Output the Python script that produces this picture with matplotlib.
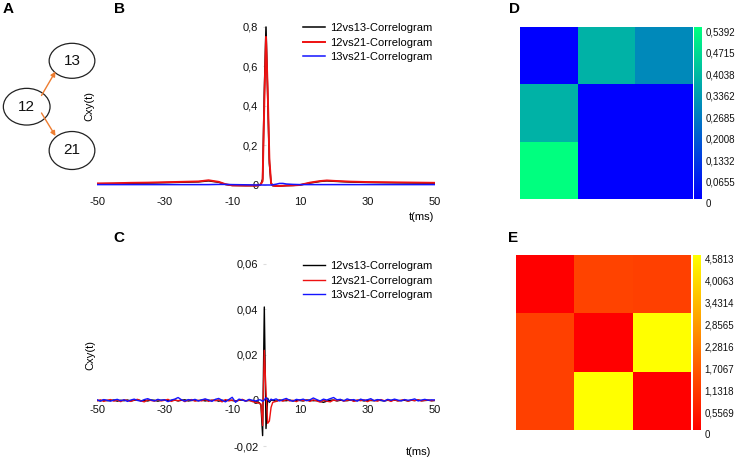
import numpy as np
import matplotlib
matplotlib.use('Agg')
import matplotlib.pyplot as plt
from matplotlib.patches import Ellipse, FancyArrowPatch

plt.rcParams['font.family'] = ['Liberation Sans', 'DejaVu Sans']

W, H = 737, 461

# ------------------------------------------------------------------ data
series_labels = ['12vs13-Correlogram', '12vs21-Correlogram', '13vs21-Correlogram']
series_colors = ['#000000', '#ee1111', '#1414ff']

x_ticks = [-50, -30, -10, 10, 30, 50]
x_ticklabels = ['-50', '-30', '-10', '10', '30', '50']

# Panel B : raw correlograms
b_t = [-50, -45, -40, -35, -30, -25, -20, -17, -14, -12, -10, -6, -3, -2,
       -1.5, -1, -0.5, 0, 0.5, 1, 1.5, 2, 3, 4, 5, 6, 8, 10,
       13, 16, 18, 20, 25, 30, 35, 40, 45, 50]
b_black = [0.006, 0.007, 0.009, 0.010, 0.012, 0.014, 0.016, 0.021, 0.014, 0.003, -0.002, -0.003, -0.003, -0.001,
           0.004, 0.030, 0.470, 0.800, 0.450, 0.110, 0.008, -0.003, -0.005, -0.005, -0.004, -0.003, -0.002, 0.000,
           0.010, 0.018, 0.021, 0.019, 0.015, 0.013, 0.012, 0.011, 0.010, 0.009]
b_red = [0.008, 0.009, 0.011, 0.012, 0.014, 0.016, 0.018, 0.024, 0.016, 0.004, -0.002, -0.003, -0.003, -0.001,
         0.005, 0.020, 0.420, 0.750, 0.480, 0.130, 0.010, -0.003, -0.005, -0.005, -0.004, -0.003, -0.002, 0.000,
         0.012, 0.020, 0.023, 0.021, 0.017, 0.015, 0.014, 0.013, 0.012, 0.011]
b_blue = [0.002, 0.002, 0.002, 0.002, 0.002, 0.002, 0.002, 0.002, 0.003, 0.003, 0.002, 0.001, 0.000, 0.000,
          0.000, 0.000, 0.000, 0.000, 0.000, 0.000, 0.000, 0.001, 0.004, 0.008, 0.008, 0.005, 0.003, 0.002,
          0.002, 0.002, 0.002, 0.002, 0.002, 0.002, 0.002, 0.002, 0.002, 0.002]
b_yticks = [0, 0.2, 0.4, 0.6, 0.8]
b_yticklabels = ['0', '0,2', '0,4', '0,6', '0,8']

# Panel C : corrected correlograms (1 ms bins, 0.5 ms around zero lag)
c_t = list(range(-50, -1)) + [-1.5, -1, -0.5, 0, 0.5, 1, 1.5] + list(range(2, 51))
c_black = ([0.0001, -0.0002, 0.0002, -0.0001, 0.0000, 0.0002, -0.0003, 0.0001, -0.0001, 0.0002,
            -0.0002, 0.0001, 0.0003, -0.0001, 0.0000, -0.0002, 0.0002, 0.0001, -0.0003, 0.0001,
            0.0002, -0.0001, 0.0000, 0.0002, -0.0002, 0.0001, 0.0003, -0.0002, 0.0000, 0.0001,
            -0.0001, 0.0002, -0.0002, 0.0001, 0.0000, 0.0002, -0.0003, 0.0001, -0.0001, 0.0002,
            0.0000, -0.0002, 0.0001, 0.0002, -0.0001, 0.0000, -0.0002, -0.0005, -0.0010]
           + [-0.0020, -0.0154, 0.0410, -0.0123, 0.0010, -0.0008, 0.0002]
           + [0.0001, -0.0003, 0.0002, 0.0000, -0.0001, 0.0002, -0.0002, 0.0001, 0.0000, -0.0002,
              0.0002, 0.0001, -0.0001, 0.0000, -0.0004, -0.0008, -0.0003, 0.0001, 0.0002, -0.0002,
              0.0001, 0.0000, -0.0001, 0.0002, -0.0001, 0.0000, 0.0002, -0.0002, 0.0001, 0.0000,
              -0.0001, 0.0002, 0.0000, -0.0002, 0.0001, 0.0000, 0.0002, -0.0001, 0.0000, 0.0001,
              -0.0002, 0.0001, 0.0000, 0.0002, -0.0001, 0.0000, 0.0001, -0.0001, 0.0000])
c_red = ([-0.0002, 0.0003, -0.0004, 0.0001, 0.0004, -0.0003, 0.0002, -0.0005, 0.0003, 0.0000,
          -0.0004, 0.0002, 0.0005, -0.0002, -0.0006, 0.0003, 0.0000, -0.0003, 0.0004, -0.0002,
          0.0001, 0.0005, -0.0004, 0.0002, -0.0001, 0.0003, -0.0005, 0.0002, 0.0004, -0.0003,
          0.0001, -0.0002, 0.0005, -0.0004, 0.0002, -0.0001, 0.0003, -0.0006, 0.0004, -0.0002,
          0.0002, -0.0004, 0.0001, 0.0005, -0.0003, 0.0002, -0.0005, -0.0008, -0.0012]
         + [-0.0015, -0.0110, 0.0220, 0.0040, -0.0100, -0.0090, -0.0030]
         + [-0.0008, -0.0004, 0.0002, -0.0003, 0.0004, -0.0002, 0.0001, -0.0005, 0.0003, -0.0001,
            0.0002, -0.0004, 0.0003, -0.0002, -0.0007, 0.0001, -0.0003, -0.0006, 0.0002, -0.0001,
            0.0004, -0.0003, 0.0001, 0.0003, -0.0004, 0.0002, -0.0001, 0.0003, -0.0005, 0.0002,
            0.0000, -0.0003, 0.0004, -0.0001, 0.0002, -0.0004, 0.0003, -0.0002, 0.0001, 0.0004,
            -0.0003, 0.0002, -0.0001, 0.0003, -0.0002, 0.0001, 0.0002, -0.0001, 0.0001])
c_blue = ([0.0003, -0.0002, 0.0004, 0.0001, -0.0003, 0.0002, 0.0005, -0.0001, 0.0003, -0.0004,
           0.0002, 0.0006, 0.0000, -0.0003, 0.0004, 0.0008, 0.0002, -0.0002, 0.0005, 0.0001,
           0.0003, -0.0005, 0.0002, 0.0006, 0.0013, 0.0003, -0.0003, 0.0004, 0.0001, 0.0005,
           -0.0002, 0.0003, 0.0007, 0.0002, -0.0004, 0.0005, 0.0009, 0.0001, -0.0006, 0.0004,
           0.0014, -0.0008, 0.0006, 0.0002, -0.0003, 0.0005, 0.0001, -0.0002, 0.0003]
          + [0.0002, -0.0004, 0.0003, 0.0012, 0.0004, -0.0003, 0.0006]
          + [0.0002, 0.0007, -0.0002, 0.0004, 0.0009, 0.0001, -0.0003, 0.0005, 0.0002, 0.0006,
             -0.0001, 0.0003, 0.0011, 0.0004, -0.0002, 0.0006, 0.0002, 0.0008, 0.0013, 0.0003,
             0.0005, -0.0002, 0.0007, 0.0002, 0.0004, -0.0003, 0.0006, 0.0001, 0.0003, 0.0008,
             -0.0001, 0.0004, 0.0002, -0.0003, 0.0005, 0.0001, 0.0006, 0.0002, -0.0002, 0.0004,
             0.0001, 0.0003, 0.0007, -0.0002, 0.0002, 0.0005, 0.0001, 0.0003, 0.0002])
c_yticks = [-0.02, 0, 0.02, 0.04, 0.06]
c_yticklabels = ['-0,02', '0', '0,02', '0,04', '0,06']

# Panel D / E matrices
d_matrix = [[0.0, 0.377, 0.290],
            [0.377, 0.0, 0.0],
            [0.5392, 0.0, 0.0]]
d_ticklabels = ['0', '0,0655', '0,1332', '0,2008', '0,2685', '0,3362', '0,4038', '0,4715', '0,5392']
d_max = 0.5392
e_matrix = [[0.0, 1.20, 1.15],
            [1.15, 0.0, 4.5813],
            [1.15, 4.5813, 0.0]]
e_ticklabels = ['0', '0,5569', '1,1318', '1,7067', '2,2816', '2,8565', '3,4314', '4,0063', '4,5813']
e_max = 4.5813

# Panel A graph
a_nodes = ['12', '13', '21']
a_edges = [('12', '13'), ('12', '21')]

# ------------------------------------------------------------------ figure
fig = plt.figure(figsize=(W / 100, H / 100), dpi=100)


def box(x0, y0, x1, y1):
    return [x0 / W, 1 - y1 / H, (x1 - x0) / W, (y1 - y0) / H]


# ---- Panel A
ax_a = fig.add_axes(box(0, 30, 110, 180))
ax_a.set_xlim(0, 110)
ax_a.set_ylim(180, 30)
ax_a.axis('off')
node_layout = {'12': (26.7, 106.7, 46.7, 36.7),
               '13': (72.0, 60.8, 45.7, 35.0),
               '21': (72.0, 150.5, 45.7, 38.0)}
for n in a_nodes:
    cx, cy, w, h = node_layout[n]
    ax_a.add_patch(Ellipse((cx, cy), w, h, facecolor='white', edgecolor='#222222', lw=0.9))
    ax_a.text(cx, cy, n, ha='center', va='center', fontsize=11, color='#111111')
edge_layout = {('12', '13'): ((41.5, 95.5), (55.5, 71.5)),
               ('12', '21'): ((41.5, 113.0), (55.5, 136.0))}
for e in a_edges:
    pa, pb = edge_layout[e]
    ax_a.add_patch(FancyArrowPatch(pa, pb, arrowstyle='-|>', mutation_scale=7,
                                   color='#ed7d31', lw=1.0, shrinkA=0, shrinkB=0))


def corr_axes(ax, ylim, yticks, yticklabels, xpad):
    ax.set_xlim(-50, 50)
    ax.set_ylim(*ylim)
    for s in ['top', 'right']:
        ax.spines[s].set_visible(False)
    ax.spines['left'].set_position(('data', 0))
    ax.spines['bottom'].set_position(('data', 0))
    ax.spines['left'].set_visible(False)
    ax.spines['bottom'].set_visible(False)
    ax.set_xticks(x_ticks)
    ax.set_xticklabels(x_ticklabels)
    ax.set_yticks(yticks)
    ax.set_yticklabels(yticklabels)
    ax.tick_params(axis='x', length=0, pad=xpad, labelsize=8, colors='#111111')
    ax.tick_params(axis='y', length=2, pad=3.5, labelsize=8, color='#dddddd', labelcolor='#111111')
    ax.patch.set_visible(False)


legend_kw = dict(frameon=False, fontsize=8, handlelength=2.0, handletextpad=0.45,
                 labelspacing=0.42, borderpad=0, borderaxespad=0, loc='upper left')

# ---- Panel B
ax_b = fig.add_axes(box(97, 17.1, 435, 188.95))
for ys, c, lab, lw in zip([b_black, b_red, b_blue], series_colors, series_labels, [1.1, 1.4, 1.1]):
    ax_b.plot(b_t, ys, color=c, lw=lw, label=lab)
corr_axes(ax_b, (-0.02, 0.85), b_yticks, b_yticklabels, 8.5)
ax_b.legend(bbox_to_anchor=(303 / W, 1 - 23 / H), bbox_transform=fig.transFigure, **legend_kw)

# ---- Panel C
ax_c = fig.add_axes(box(97, 259.1, 435, 446.1))
for ys, c, lab in zip([c_black, c_red, c_blue], series_colors, series_labels):
    ax_c.plot(c_t, ys, color=c, lw=1.0, label=lab)
corr_axes(ax_c, (-0.02, 0.062), c_yticks, c_yticklabels, 3.5)
ax_c.legend(bbox_to_anchor=(303 / W, 1 - 261 / H), bbox_transform=fig.transFigure, **legend_kw)

fig.text(89 / W, 1 - 106 / H, 'Cxy(t)', rotation=90, ha='center', va='center', fontsize=8)
fig.text(90 / W, 1 - 355 / H, 'Cxy(t)', rotation=90, ha='center', va='center', fontsize=8)
fig.text(421 / W, 1 - 217 / H, 't(ms)', ha='center', va='center', fontsize=8)
fig.text(418 / W, 1 - 452 / H, 't(ms)', ha='center', va='center', fontsize=8)


# ---- Panels D, E
def heat(mbox, cbox, mat, cmap, vmax, labels):
    ax = fig.add_axes(box(*mbox))
    im = ax.imshow(np.array(mat), cmap=cmap, vmin=0, vmax=vmax, aspect='auto',
                   interpolation='nearest')
    ax.set_xticks([])
    ax.set_yticks([])
    for s in ax.spines.values():
        s.set_visible(False)
    cax = fig.add_axes(box(*cbox))
    cb = fig.colorbar(im, cax=cax)
    cb.outline.set_visible(False)
    cb.set_ticks(np.linspace(0, vmax, len(labels)))
    cax.set_yticklabels(labels, va='top')
    cax.tick_params(length=0, pad=2.5, labelsize=7, labelcolor='#111111')
    return ax


heat((520, 27.3, 692.3, 199.3), (694.3, 27.3, 702.3, 199.3), d_matrix, 'winter', d_max, d_ticklabels)
heat((516, 255, 691, 430), (693.3, 255, 701.3, 430), e_matrix, 'autumn', e_max, e_ticklabels)

# ---- panel letters
for lab, (px, py) in zip(['A', 'B', 'C', 'D', 'E'],
                         [(8, 9), (119.5, 9), (119, 238), (515, 9), (513, 238)]):
    fig.text(px / W, 1 - py / H, lab, ha='center', va='center', fontsize=11, fontweight='bold')

fig.savefig('out.png', dpi=100)
